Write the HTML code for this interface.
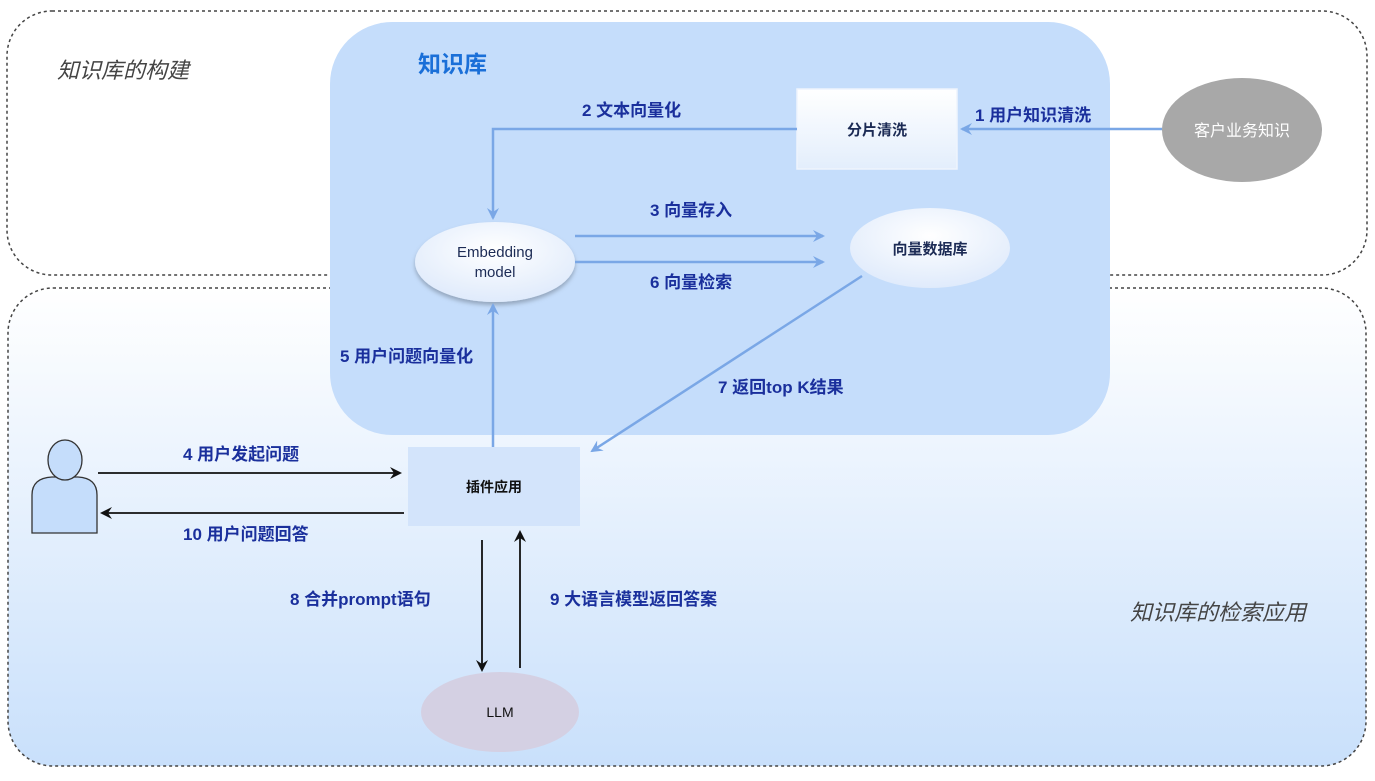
<!DOCTYPE html>
<html><head><meta charset="utf-8"><style>
html,body{margin:0;padding:0;background:#fff;}
svg text{font-family:"Liberation Sans","Noto Sans CJK SC",sans-serif;}
.lb{fill:#1a2f9c;font-weight:bold;font-size:17px;}
</style></head><body>
<svg width="1375" height="776" viewBox="0 0 1375 776" xmlns="http://www.w3.org/2000/svg">
<defs>
<linearGradient id="bg" x1="0" y1="0" x2="0" y2="1">
<stop offset="0" stop-color="#ffffff"/><stop offset="1" stop-color="#c9e0fb"/></linearGradient>
<radialGradient id="el" cx="0.5" cy="0.35" r="0.7">
<stop offset="0" stop-color="#ffffff"/><stop offset="1" stop-color="#dde9fb"/></radialGradient>
<linearGradient id="rc" x1="0" y1="0" x2="0" y2="1">
<stop offset="0" stop-color="#ffffff"/><stop offset="1" stop-color="#e3eefc"/></linearGradient>
<marker id="ab" markerWidth="12" markerHeight="12" refX="10" refY="6" orient="auto" markerUnits="userSpaceOnUse">
<path d="M0,0 L12,6 L0,12 L4,6 Z" fill="#7aa7e6"/></marker>
<marker id="ak" markerWidth="12" markerHeight="12" refX="10" refY="6" orient="auto" markerUnits="userSpaceOnUse">
<path d="M0,0 L12,6 L0,12 L4,6 Z" fill="#111"/></marker>
<filter id="sh" x="-20%" y="-20%" width="140%" height="150%"><feDropShadow dx="0" dy="3" stdDeviation="2" flood-color="#000" flood-opacity="0.25"/></filter>
</defs>
<rect x="0" y="0" width="1375" height="776" fill="#fff"/>
<rect x="7" y="11" width="1360" height="264" rx="45" fill="#fff" stroke="#444" stroke-width="1.5" stroke-dasharray="3,3"/>
<rect x="8" y="288" width="1358" height="478" rx="45" fill="url(#bg)" stroke="#444" stroke-width="1.5" stroke-dasharray="3,3"/>
<rect x="330" y="22" width="780" height="413" rx="62" fill="#c5ddfb"/>
<text x="57" y="78" font-size="22" font-style="italic" fill="#444">知识库的构建</text>
<text x="1130" y="620" font-size="22" font-style="italic" fill="#444">知识库的检索应用</text>
<text x="418" y="72" font-size="23" font-weight="bold" fill="#1a6fd8">知识库</text>
<rect x="797" y="89" width="160" height="80" fill="url(#rc)" stroke="#eef4fd" stroke-width="1.5"/>
<text x="877" y="135" font-size="15" font-weight="bold" text-anchor="middle" fill="#1c2b55">分片清洗</text>
<ellipse cx="1242" cy="130" rx="80" ry="52" fill="#a8a8a8"/>
<text x="1242" y="136" font-size="16" text-anchor="middle" fill="#fff">客户业务知识</text>
<line x1="1162" y1="129" x2="962" y2="129" stroke="#7aa7e6" stroke-width="2.5" marker-end="url(#ab)"/>
<text x="975" y="121" class="lb">1 用户知识清洗</text>
<polyline points="797,129 493,129 493,218" fill="none" stroke="#7aa7e6" stroke-width="2.5" marker-end="url(#ab)"/>
<text x="582" y="116" class="lb">2 文本向量化</text>
<ellipse cx="495" cy="262" rx="80" ry="40" fill="url(#el)" filter="url(#sh)"/>
<text x="495" y="257" font-size="15" text-anchor="middle" fill="#1c2b55">Embedding</text>
<text x="495" y="277" font-size="15" text-anchor="middle" fill="#1c2b55">model</text>
<line x1="575" y1="236" x2="823" y2="236" stroke="#7aa7e6" stroke-width="2.5" marker-end="url(#ab)"/>
<line x1="575" y1="262" x2="823" y2="262" stroke="#7aa7e6" stroke-width="2.5" marker-end="url(#ab)"/>
<text x="650" y="216" class="lb">3 向量存入</text>
<text x="650" y="288" class="lb">6 向量检索</text>
<ellipse cx="930" cy="248" rx="80" ry="40" fill="url(#el)"/>
<text x="930" y="254" font-size="15" font-weight="bold" text-anchor="middle" fill="#1c2b55">向量数据库</text>
<line x1="862" y1="276" x2="592" y2="451" stroke="#7aa7e6" stroke-width="2.5" marker-end="url(#ab)"/>
<text x="718" y="393" class="lb">7 返回top K结果</text>
<line x1="493" y1="447" x2="493" y2="305" stroke="#7aa7e6" stroke-width="2.5" marker-end="url(#ab)"/>
<text x="340" y="362" class="lb">5 用户问题向量化</text>
<rect x="408" y="447" width="172" height="79" fill="#d3e4fb"/>
<text x="494" y="492" font-size="14" font-weight="bold" text-anchor="middle" fill="#111">插件应用</text>
<g stroke="#333" stroke-width="1.3" fill="#c5ddfb">
<path d="M32,533 L32,495 Q32,478 52,477 L78,477 Q97,478 97,495 L97,533 Z"/>
<ellipse cx="65" cy="460" rx="17" ry="20"/>
</g>
<line x1="98" y1="473" x2="400" y2="473" stroke="#111" stroke-width="1.8" marker-end="url(#ak)"/>
<line x1="404" y1="513" x2="102" y2="513" stroke="#111" stroke-width="1.8" marker-end="url(#ak)"/>
<text x="183" y="460" class="lb">4 用户发起问题</text>
<text x="183" y="540" class="lb">10 用户问题回答</text>
<line x1="482" y1="540" x2="482" y2="670" stroke="#111" stroke-width="1.8" marker-end="url(#ak)"/>
<line x1="520" y1="668" x2="520" y2="532" stroke="#111" stroke-width="1.8" marker-end="url(#ak)"/>
<text x="290" y="605" class="lb">8 合并prompt语句</text>
<text x="550" y="605" class="lb">9 大语言模型返回答案</text>
<ellipse cx="500" cy="712" rx="79" ry="40" fill="#d4d0e3"/>
<text x="500" y="717" font-size="14" text-anchor="middle" fill="#111">LLM</text>
</svg>
</body></html>
